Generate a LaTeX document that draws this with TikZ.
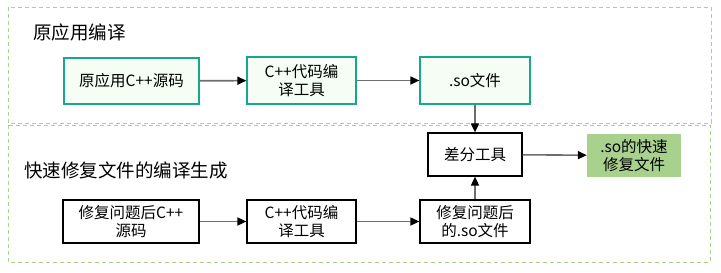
\documentclass[tikz,border=0pt]{standalone}
\usepackage{fontspec}
\setmainfont{Noto Sans CJK SC}
\usetikzlibrary{arrows.meta}
\definecolor{dashgreen}{HTML}{A9D18E}
\definecolor{tealline}{HTML}{17A88B}
\definecolor{lightfill}{HTML}{F5FDF5}
\definecolor{greenfill}{HTML}{A9D18E}
\definecolor{arrowgray}{HTML}{6E6E6E}
\tikzset{
  region/.style={draw=dashgreen, dash pattern=on 4pt off 3pt, line width=1pt},
  boxtop/.style={draw=tealline, fill=lightfill, line width=1.2pt, align=center, inner sep=0pt,
    font=\fontsize{15.5}{18.5}\selectfont},
  boxplain/.style={draw=black, fill=white, line width=1.2pt, align=center, inner sep=0pt,
    font=\fontsize{15.5}{18.5}\selectfont},
  boxgreen/.style={draw=none, fill=greenfill, align=center, inner sep=0pt,
    font=\fontsize{15.5}{18.5}\selectfont},
  title/.style={anchor=west, inner sep=0pt, font=\fontsize{18.5}{22}\selectfont},
  conn/.style={draw=arrowgray, line width=1.6pt, -{Triangle[length=9pt,width=8pt,fill=black,color=black]}},
}
\begin{document}
\begin{tikzpicture}[x=1pt,y=-1pt]
\useasboundingbox (0,0) rectangle (721,273);
\draw[region] (8,7) rectangle (711,123);
\draw[region] (8,125) rectangle (710,262);
\node[title] (t1) at (33,32) {原应用编译};
\node[title] (t2) at (24,170) {快速修复文件的编译生成};
\node[boxtop, minimum width=135pt, minimum height=46pt] (a) at (131.5,81) {原应用C++源码};
\node[boxtop, minimum width=109pt, minimum height=47pt] (b) at (301.5,80.5) {C++代码编\\译工具};
\node[boxtop, minimum width=110pt, minimum height=47pt] (c) at (475,80.5) {.so文件};
\node[boxplain, minimum width=94pt, minimum height=43pt] (d) at (475,154.5) {差分工具};
\node[boxgreen, minimum width=94pt, minimum height=43pt] (e) at (634,155.5) {.so的快速\\修复文件};
\node[boxplain, minimum width=136pt, minimum height=43pt] (g) at (131,221.5) {修复问题后C++\\源码};
\node[boxplain, minimum width=109pt, minimum height=43pt] (h) at (301.5,221.5) {C++代码编\\译工具};
\node[boxplain, minimum width=110pt, minimum height=43pt] (f) at (475,221.5) {修复问题后\\的.so文件};
\draw[conn] (a) -- (b);
\draw[conn] (b) -- (c);
\draw[conn] (c) -- (d);
\draw[conn] (f) -- (d);
\draw[conn] (d) -- (e);
\draw[conn] (g) -- (h);
\draw[conn] (h) -- (f);
\end{tikzpicture}
\end{document}
